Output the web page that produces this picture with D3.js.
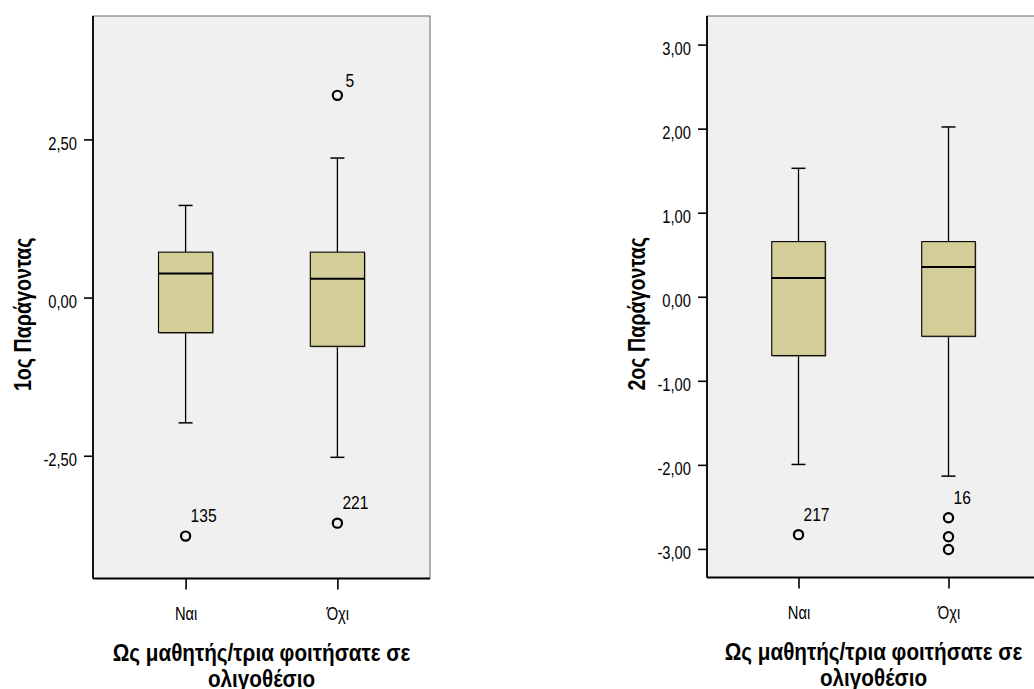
<!DOCTYPE html>
<html>
<head>
<meta charset="utf-8">
<script src="https://cdn.jsdelivr.net/npm/d3@7"></script>
<style>
  html, body { margin: 0; padding: 0; background: #ffffff; }
  svg { display: block; }
  text { font-family: "Liberation Sans", Arial, sans-serif; fill: #000; }
</style>
</head>
<body>
<svg id="chart" width="1034" height="689"></svg>
<script>
// ---------- DATA ----------
const categories = ["Ναι", "Όχι"];

const f1WhiskerLow  = [-1.98, -2.525];
const f1Q1          = [-0.554, -0.77];
const f1Median      = [0.38, 0.296];
const f1Q3          = [0.718, 0.718];
const f1WhiskerHigh = [1.456, 2.205];
const f1OutlierCats   = ["Ναι", "Όχι", "Όχι"];
const f1OutlierValues = [-3.77, 3.196, -3.565];
const f1OutlierLabels = ["135", "5", "221"];
const f1Ticks = [-2.5, 0, 2.5];

const f2WhiskerLow  = [-1.995, -2.134];
const f2Q1          = [-0.70, -0.47];
const f2Median      = [0.224, 0.355];
const f2Q3          = [0.656, 0.656];
const f2WhiskerHigh = [1.528, 2.02];
const f2OutlierCats   = ["Ναι", "Όχι", "Όχι", "Όχι"];
const f2OutlierValues = [-2.83, -2.63, -2.856, -3.006];
const f2OutlierLabels = ["217", "16", "", ""];
const f2Ticks = [-3, -2, -1, 0, 1, 2, 3];

const yTitles = ["1ος Παράγοντας", "2ος Παράγοντας"];
const xTitleLines = ["Ως μαθητής/τρια φοιτήσατε σε", "ολιγοθέσιο"];

// ---------- DRAW ----------
const NARROW = 0.82; // emulate a condensed face by squeezing horizontally
const locale = d3.formatLocale({decimal: ",", thousands: ".", grouping: [3], currency: ["", "€"], minus: "-"});
const fmt = locale.format(".2f");
const svg = d3.select("#chart");

function addText(parent, x, y, str, size, opts = {}) {
  const sx = opts.sx || NARROW;
  const t = parent.append("text")
    .attr("transform", `translate(${x},${y})${opts.rotate ? " rotate(" + opts.rotate + ")" : ""} scale(${sx},1)`)
    .attr("font-size", size)
    .attr("text-anchor", opts.anchor || "start");
  if (opts.bold) t.attr("font-weight", "bold");
  if (opts.baseline) t.attr("dominant-baseline", opts.baseline);
  t.text(str);
  return t;
}

function panel(opt) {
  const g = svg.append("g").attr("transform", `translate(${opt.x0},${opt.top})`);
  const h = opt.bottom - opt.top;
  const x = d3.scalePoint().domain(categories).range([0, opt.w]).padding(0.61);
  const y = d3.scaleLinear().domain(opt.domain).range([h, 0]);
  const bw = x.step() * 0.357;
  const cap = 7;

  // plot background + frame
  g.append("rect").attr("x", 0).attr("y", 0).attr("width", opt.w).attr("height", h)
    .attr("fill", "#f0f0f0").attr("stroke", "#6a6a6a").attr("stroke-width", 1);

  const stats = categories.map((c, i) => ({
    c, lo: opt.lo[i], q1: opt.q1[i], med: opt.med[i], q3: opt.q3[i], hi: opt.hi[i]
  }));

  const bx = g.selectAll(".box").data(stats).join("g").attr("class", "box");
  bx.append("line").attr("x1", d => x(d.c)).attr("x2", d => x(d.c))
    .attr("y1", d => y(d.hi)).attr("y2", d => y(d.q3)).attr("stroke", "#000").attr("stroke-width", 1.3);
  bx.append("line").attr("x1", d => x(d.c)).attr("x2", d => x(d.c))
    .attr("y1", d => y(d.q1)).attr("y2", d => y(d.lo)).attr("stroke", "#000").attr("stroke-width", 1.3);
  bx.append("line").attr("x1", d => x(d.c) - cap).attr("x2", d => x(d.c) + cap)
    .attr("y1", d => y(d.hi)).attr("y2", d => y(d.hi)).attr("stroke", "#000").attr("stroke-width", 1.5);
  bx.append("line").attr("x1", d => x(d.c) - cap).attr("x2", d => x(d.c) + cap)
    .attr("y1", d => y(d.lo)).attr("y2", d => y(d.lo)).attr("stroke", "#000").attr("stroke-width", 1.5);
  bx.append("rect").attr("x", d => x(d.c) - bw / 2 + 1).attr("y", d => y(d.q3) + 1)
    .attr("width", bw).attr("height", d => y(d.q1) - y(d.q3))
    .attr("fill", "#8a8770");
  bx.append("rect").attr("x", d => x(d.c) - bw / 2).attr("y", d => y(d.q3))
    .attr("width", bw).attr("height", d => y(d.q1) - y(d.q3))
    .attr("fill", "#d3ce97").attr("stroke", "#000").attr("stroke-width", 1.1);
  bx.append("line").attr("x1", d => x(d.c) - bw / 2).attr("x2", d => x(d.c) + bw / 2)
    .attr("y1", d => y(d.med)).attr("y2", d => y(d.med)).attr("stroke", "#000").attr("stroke-width", 2);

  // outliers
  const outs = opt.oCats.map((c, i) => ({c, v: opt.oVals[i], label: opt.oLabels[i]}));
  g.selectAll(".out").data(outs).join("circle").attr("class", "out")
    .attr("cx", d => x(d.c)).attr("cy", d => y(d.v)).attr("r", 4.6)
    .attr("fill", "none").attr("stroke", "#000").attr("stroke-width", 2.2);
  outs.filter(d => d.label).forEach(d => {
    addText(g, x(d.c) + (d.v > 0 ? 8 : 5), y(d.v) + (d.v > 0 ? -8 : -14), d.label, 19);
  });

  // y axis
  const ya = g.append("g").call(d3.axisLeft(y).tickValues(opt.ticks).tickFormat(fmt).tickSize(9).tickPadding(6));
  ya.select(".domain").attr("stroke", "#000").attr("stroke-width", 1.8).attr("d", `M0,0V${h}`);
  ya.selectAll(".tick line").attr("stroke", "#000").attr("stroke-width", 1.6);
  ya.selectAll(".tick text")
    .attr("font-family", null).attr("font-size", 18)
    .attr("x", null).attr("dy", null)
    .attr("transform", `translate(-16,10) scale(${NARROW},1)`);

  // x axis
  const xa = g.append("g").attr("transform", `translate(0,${h})`)
    .call(d3.axisBottom(x).tickSize(11).tickPadding(18));
  xa.select(".domain").attr("stroke", "#000").attr("stroke-width", 1.8).attr("d", `M0,0H${opt.w}`);
  xa.selectAll(".tick line").attr("stroke", "#000").attr("stroke-width", 1.6);
  xa.selectAll(".tick text")
    .attr("font-family", null).attr("font-size", 18)
    .attr("y", null).attr("dy", null)
    .attr("transform", `translate(0,41.5) scale(${NARROW},1)`);

  // titles
  addText(g, opt.yTitleX - opt.x0, h / 2 + 17, opt.yTitle, 24,
    {rotate: -90, anchor: "middle", baseline: "central", bold: true});
  xTitleLines.forEach((line, i) => {
    addText(g, opt.w / 2, h + 82 + i * 26.5, line, 23, {anchor: "middle", bold: true, sx: 0.9});
  });
}

panel({x0: 93, w: 337, top: 16, bottom: 578.5, domain: [-4.44, 4.45],
  lo: f1WhiskerLow, q1: f1Q1, med: f1Median, q3: f1Q3, hi: f1WhiskerHigh,
  oCats: f1OutlierCats, oVals: f1OutlierValues, oLabels: f1OutlierLabels,
  ticks: f1Ticks, yTitle: yTitles[0], yTitleX: 23});

panel({x0: 707, w: 333, top: 16, bottom: 577.5, domain: [-3.34, 3.34],
  lo: f2WhiskerLow, q1: f2Q1, med: f2Median, q3: f2Q3, hi: f2WhiskerHigh,
  oCats: f2OutlierCats, oVals: f2OutlierValues, oLabels: f2OutlierLabels,
  ticks: f2Ticks, yTitle: yTitles[1], yTitleX: 637});
</script>
</body>
</html>
